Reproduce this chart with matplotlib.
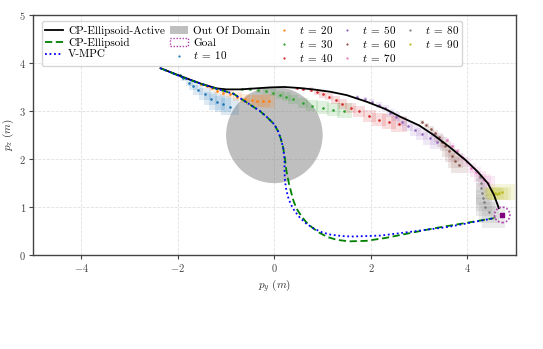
import numpy as np
import matplotlib
matplotlib.use("Agg")
import matplotlib.pyplot as plt
from matplotlib.patches import Circle, Rectangle, Patch
from matplotlib.lines import Line2D

plt.rcParams['font.family'] = 'serif'
plt.rcParams['font.serif'] = ['cmr10', 'DejaVu Serif']
plt.rcParams['mathtext.fontset'] = 'cm'
plt.rcParams['axes.formatter.use_mathtext'] = True

# ---------------- data ----------------
active_x = [-2.36, -1.9, -1.5, -1.19, -0.99, -0.7, -0.4, -0.1, 0.2, 0.5, 0.8, 1.16, 1.5, 1.92, 2.3, 2.61, 3.0, 3.30, 3.63, 3.96, 4.20, 4.42, 4.55, 4.65]
active_y = [3.89, 3.71, 3.56, 3.47, 3.45, 3.45, 3.47, 3.49, 3.50, 3.48, 3.45, 3.40, 3.33, 3.19, 3.04, 2.88, 2.70, 2.50, 2.25, 1.98, 1.75, 1.50, 1.25, 0.98]

ell_x = [-2.36, -1.9, -1.5, -1.19, -0.85, -0.5, -0.3, -0.16, 0.0, 0.08, 0.13, 0.18, 0.22, 0.25, 0.30, 0.35, 0.40, 0.46, 0.55, 0.65, 0.78, 0.93, 1.1, 1.3, 1.55, 1.9, 2.3, 3.3, 4.54]
ell_y = [3.89, 3.70, 3.56, 3.46, 3.36, 3.13, 3.00, 2.88, 2.72, 2.57, 2.43, 2.25, 2.00, 1.75, 1.50, 1.30, 1.12, 0.97, 0.83, 0.70, 0.58, 0.47, 0.38, 0.32, 0.29, 0.30, 0.36, 0.56, 0.77]

vmpc_x = [-2.36, -1.9, -1.5, -1.19, -0.85, -0.5, -0.3, -0.16, 0.0, 0.08, 0.13, 0.18, 0.21, 0.21, 0.22, 0.24, 0.28, 0.34, 0.42, 0.53, 0.66, 0.81, 0.98, 1.16, 1.4, 1.6, 2.2, 2.6, 3.6, 4.54]
vmpc_y = [3.89, 3.70, 3.56, 3.46, 3.36, 3.13, 3.00, 2.88, 2.72, 2.57, 2.43, 2.25, 2.00, 1.75, 1.55, 1.40, 1.22, 1.06, 0.92, 0.78, 0.66, 0.56, 0.48, 0.43, 0.40, 0.39, 0.41, 0.46, 0.59, 0.77]

obstacle_center = (0.0, 2.5)
obstacle_radius = 1.0
goal_center = (4.72, 0.84)
goal_radius = 0.16

t_labels = [10, 20, 30, 40, 50, 60, 70, 80, 90]
pred_x = {
    10: [-1.96, -1.89, -1.76, -1.68, -1.58, -1.44, -1.32, -1.19, -1.06, -0.92],
    20: [-1.51, -1.40, -1.30, -1.19, -1.06, -0.92, -0.77, -0.61, -0.47, -0.35, -0.23, -0.12],
    30: [-0.68, -0.50, -0.33, -0.18, -0.03, 0.12, 0.25, 0.39, 0.59, 0.78, 1.00, 1.22, 1.45],
    40: [0.46, 0.60, 0.76, 0.88, 1.00, 1.13, 1.27, 1.41, 1.58, 1.75, 1.97, 2.17, 2.37, 2.58],
    50: [1.72, 1.88, 2.02, 2.16, 2.30, 2.40, 2.52, 2.64, 2.76, 2.92, 3.06, 3.22, 3.37],
    60: [3.05, 3.15, 3.24, 3.32, 3.40, 3.47, 3.54, 3.61, 3.68, 3.75, 3.82],
    70: [3.58, 3.68, 3.78, 3.88, 3.98, 4.08, 4.17, 4.26, 4.35, 4.42],
    80: [4.25, 4.27, 4.29, 4.30, 4.32, 4.34, 4.37, 4.44, 4.54],
    90: [4.51, 4.56, 4.61, 4.66, 4.72],
}
pred_y = {
    10: [3.75, 3.68, 3.58, 3.52, 3.44, 3.35, 3.26, 3.19, 3.15, 3.09],
    20: [3.56, 3.52, 3.47, 3.42, 3.38, 3.35, 3.30, 3.26, 3.23, 3.21, 3.21, 3.21],
    30: [3.45, 3.45, 3.43, 3.41, 3.38, 3.34, 3.30, 3.24, 3.17, 3.11, 3.07, 3.03, 3.01],
    40: [3.47, 3.45, 3.44, 3.40, 3.35, 3.30, 3.23, 3.15, 3.06, 2.99, 2.90, 2.82, 2.78, 2.73],
    50: [3.30, 3.26, 3.19, 3.12, 3.06, 2.96, 2.88, 2.78, 2.69, 2.60, 2.52, 2.43, 2.36],
    60: [2.78, 2.70, 2.62, 2.54, 2.45, 2.36, 2.27, 2.17, 2.07, 1.97, 1.88],
    70: [2.40, 2.28, 2.16, 2.04, 1.93, 1.82, 1.73, 1.64, 1.56, 1.50],
    80: [1.62, 1.51, 1.40, 1.30, 1.20, 1.10, 1.00, 0.89, 0.80],
    90: [1.33, 1.29, 1.28, 1.29, 1.32],
}
# half-widths / half-heights of the uncertainty boxes
pred_hw = {
    10: [0.03, 0.05, 0.07, 0.09, 0.11, 0.13, 0.14, 0.16, 0.17, 0.18],
    20: [0.03, 0.04, 0.05, 0.06, 0.07, 0.08, 0.09, 0.10, 0.11, 0.12, 0.13, 0.14],
    30: [0.03, 0.04, 0.05, 0.06, 0.07, 0.08, 0.09, 0.10, 0.11, 0.12, 0.13, 0.14, 0.15],
    40: [0.03, 0.04, 0.05, 0.06, 0.07, 0.08, 0.09, 0.10, 0.11, 0.12, 0.13, 0.14, 0.15, 0.16],
    50: [0.03, 0.04, 0.05, 0.06, 0.07, 0.08, 0.09, 0.10, 0.11, 0.12, 0.13, 0.14, 0.15],
    60: [0.04, 0.05, 0.06, 0.07, 0.09, 0.10, 0.11, 0.13, 0.14, 0.15, 0.16],
    70: [0.04, 0.05, 0.06, 0.07, 0.09, 0.10, 0.11, 0.12, 0.13, 0.14],
    80: [0.07, 0.09, 0.11, 0.13, 0.15, 0.17, 0.19, 0.21, 0.23],
    90: [0.18, 0.20, 0.22, 0.24, 0.26],
}
pred_hh = {
    10: [0.03, 0.05, 0.07, 0.09, 0.11, 0.13, 0.14, 0.16, 0.17, 0.18],
    20: [0.03, 0.04, 0.05, 0.06, 0.07, 0.08, 0.09, 0.10, 0.11, 0.12, 0.13, 0.14],
    30: [0.03, 0.04, 0.05, 0.06, 0.07, 0.08, 0.09, 0.10, 0.11, 0.12, 0.13, 0.14, 0.15],
    40: [0.03, 0.04, 0.05, 0.06, 0.07, 0.08, 0.09, 0.10, 0.11, 0.12, 0.13, 0.14, 0.15, 0.16],
    50: [0.03, 0.04, 0.05, 0.06, 0.07, 0.08, 0.09, 0.10, 0.11, 0.12, 0.13, 0.14, 0.15],
    60: [0.04, 0.05, 0.06, 0.07, 0.09, 0.10, 0.11, 0.13, 0.14, 0.15, 0.16],
    70: [0.04, 0.05, 0.06, 0.07, 0.09, 0.10, 0.11, 0.12, 0.13, 0.14],
    80: [0.07, 0.09, 0.11, 0.13, 0.15, 0.17, 0.19, 0.21, 0.23],
    90: [0.10, 0.11, 0.12, 0.14, 0.16],
}

xticks = [-4, -2, 0, 2, 4]
yticks = [0, 1, 2, 3, 4, 5]

# ---------------- figure ----------------
fig = plt.figure(figsize=(5.43, 3.49), dpi=100)
ax = fig.add_axes([0.0608, 0.2685, 0.889, 0.689])

tcolors = plt.get_cmap('tab10').colors

ax.add_patch(Circle(obstacle_center, obstacle_radius, facecolor='gray', alpha=0.5,
                    edgecolor='none', zorder=1))

for i, t in enumerate(t_labels):
    c = tcolors[i]
    for x, y, hw, hh in zip(pred_x[t], pred_y[t], pred_hw[t], pred_hh[t]):
        ax.add_patch(Rectangle((x - hw, y - hh), 2 * hw, 2 * hh, facecolor=c,
                               alpha=0.15, edgecolor='none', zorder=2))
    ax.scatter(pred_x[t], pred_y[t], s=3.5, color=c, zorder=3, linewidths=0)

ax.plot(active_x, active_y, color='black', lw=1.3, zorder=5)
ax.plot(ell_x, ell_y, color='green', lw=1.3, ls=(0, (4, 2)), zorder=5)
ax.plot(vmpc_x, vmpc_y, color='blue', lw=1.3, ls=(0, (1, 1.5)), zorder=6)

ax.add_patch(Circle(goal_center, goal_radius, facecolor='none', edgecolor='#b040b0',
                    ls=(0, (1, 1.2)), lw=1.2, zorder=6))
ax.scatter([goal_center[0]], [goal_center[1]], marker='s', s=10, color='purple', zorder=7)

ax.set_xlim(-5, 5)
ax.set_ylim(0, 5)
ax.set_xticks(xticks)
ax.set_yticks(yticks)
ax.grid(True, linestyle='--', color='#e0e0e0', lw=0.6)
ax.set_axisbelow(True)
for s in ax.spines.values():
    s.set_color('#444444')
    s.set_linewidth(1.0)
ax.tick_params(labelsize=7.5, colors='#444444', length=3, width=0.8, pad=2)
ax.set_xlabel(r'$p_y\ (m)$', fontsize=8, labelpad=2, color='#333333')
ax.set_ylabel(r'$p_z\ (m)$', fontsize=8, labelpad=2, color='#333333')

handles = [
    Line2D([], [], color='black', lw=1.3),
    Line2D([], [], color='green', lw=1.3, ls=(0, (4, 2))),
    Line2D([], [], color='blue', lw=1.3, ls=(0, (1, 1.5))),
    Patch(facecolor='gray', alpha=0.5, edgecolor='none'),
    Patch(facecolor='none', edgecolor='#b040b0', ls=(0, (1, 1.2)), lw=1.0),
]
labels = ['CP-Ellipsoid-Active', 'CP-Ellipsoid', 'V-MPC', 'Out Of Domain', 'Goal']
for i, t in enumerate(t_labels):
    handles.append(Line2D([], [], ls='none', marker='o', markersize=1.6,
                          color=tcolors[i], markeredgewidth=0))
    labels.append(r'$t\;=\;%d$' % t)

leg = ax.legend(handles, labels, loc='upper left', bbox_to_anchor=(0.0186, 0.974),
                ncol=5, fontsize=8.0,
                handlelength=1.6, handletextpad=0.5, columnspacing=0.45,
                labelspacing=0.17, borderpad=0.25, borderaxespad=0.0, framealpha=0.8,
                edgecolor='#cccccc', fancybox=True)
leg.set_zorder(10)

fig.savefig('out.png', dpi=100)
